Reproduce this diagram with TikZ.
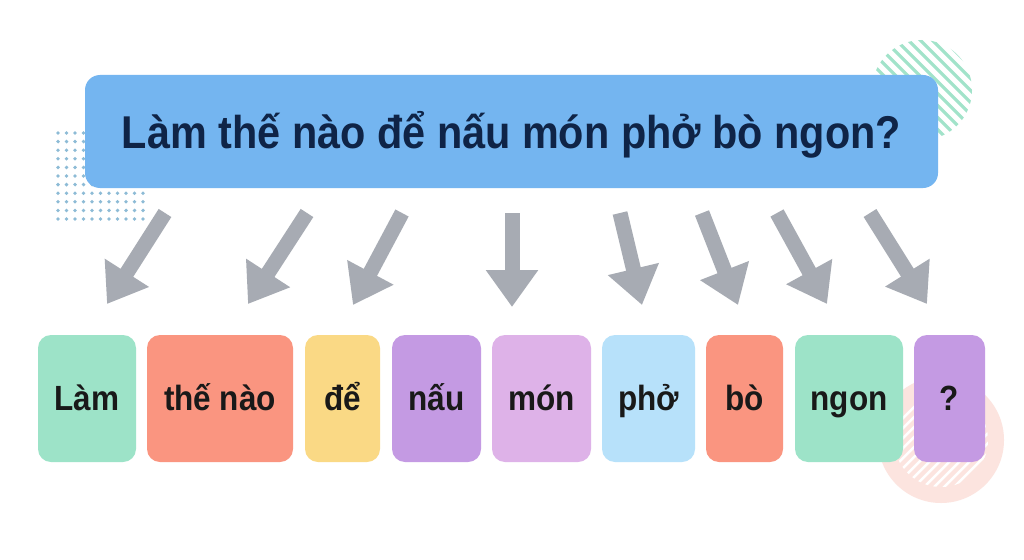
\documentclass[tikz,border=0pt]{standalone}
\usepackage{fontspec}
\setmainfont[FakeStretch=0.9]{Liberation Sans}
\usetikzlibrary{arrows.meta}
\definecolor{mint}{HTML}{9DE3C8}
\definecolor{salmon}{HTML}{FA9580}
\definecolor{sunny}{HTML}{FAD985}
\definecolor{violet}{HTML}{C49AE3}
\definecolor{lilac}{HTML}{DEB2E8}
\definecolor{sky}{HTML}{B7E1FA}
\definecolor{titleblue}{HTML}{74B5F0}
\definecolor{navy}{HTML}{0F2447}
\definecolor{arrowgray}{HTML}{A7ABB3}
\definecolor{dotblue}{HTML}{8DBBD6}
\definecolor{stripegreen}{HTML}{A2E3CA}
\definecolor{blush}{HTML}{FCE4DF}
\tikzset{
  wordbox/.style={rounded corners=13pt, inner sep=0pt, minimum height=127pt,
    text=black!90, font=\fontsize{35}{38}\selectfont\bfseries,
    text height=24pt, text depth=0pt},
  titlebox/.style={rounded corners=15pt, fill=titleblue, inner sep=0pt,
    minimum width=853pt, minimum height=113pt, text=navy,
    font=\fontsize{46}{50}\selectfont\bfseries, text height=33pt, text depth=0pt},
  fatarrow/.style={draw=arrowgray, line width=15pt,
    -{Triangle[length=37pt, width=50pt]}},
}
\begin{document}
\begin{tikzpicture}[x=1pt, y=-1pt]
\useasboundingbox (0,0) rectangle (1024,559);
\fill[white] (0,0) rectangle (1024,559);
% decorations
\foreach \i in {0,...,10}{
  \foreach \j in {0,...,10}{
    \fill[dotblue] (58+8.5*\i,133+8.6*\j) circle (1.9pt);
  }
}
\begin{scope}
  \clip (922,90) circle (50pt);
  \foreach \k in {-10,...,10}{
    \draw[stripegreen, line width=3.2pt] (922-80+12*\k,10) -- ++(160,160);
  }
\end{scope}
\fill[blush] (941,440) circle (63pt);
\begin{scope}
  \clip (941,440) circle (47pt);
  \foreach \k in {-12,...,12}{
    \draw[white, line width=2.5pt] (941-80+10*\k,520) -- ++(160,-160);
  }
\end{scope}
% title
\node[titlebox] (title) at (511.5,131.5) {Làm thế nào để nấu món phở bò ngon?};
% words
\node[wordbox, fill=mint, minimum width=98pt] (w1) at (87,398.5) {Làm};
\node[wordbox, fill=salmon, minimum width=146pt] (w2) at (220,398.5) {thế nào};
\node[wordbox, fill=sunny, minimum width=75pt] (w3) at (342.5,398.5) {để};
\node[wordbox, fill=violet, minimum width=89pt] (w4) at (436.5,398.5) {nấu};
\node[wordbox, fill=lilac, minimum width=99pt] (w5) at (541.5,398.5) {món};
\node[wordbox, fill=sky, minimum width=93pt] (w6) at (648.5,398.5) {phở};
\node[wordbox, fill=salmon, minimum width=77pt] (w7) at (744.5,398.5) {bò};
\node[wordbox, fill=mint, minimum width=108pt] (w8) at (849,398.5) {ngon};
\node[wordbox, fill=violet, minimum width=71pt] (w9) at (949.5,398.5) {?};
% arrows
\coordinate (s1) at (165,213); \coordinate (e1) at (107,304);
\coordinate (s2) at (307,213); \coordinate (e2) at (248,304);
\coordinate (s3) at (402,213); \coordinate (e3) at (353,305);
\coordinate (s4) at (512,213); \coordinate (e4) at (512,307);
\coordinate (s5) at (620,213); \coordinate (e5) at (642,305);
\coordinate (s6) at (702,213); \coordinate (e6) at (738,305);
\coordinate (s7) at (777,213); \coordinate (e7) at (827,304);
\coordinate (s8) at (870,213); \coordinate (e8) at (927,304);
\foreach \n in {1,...,8}{ \draw[fatarrow] (s\n) -- (e\n); }
\end{tikzpicture}
\end{document}
